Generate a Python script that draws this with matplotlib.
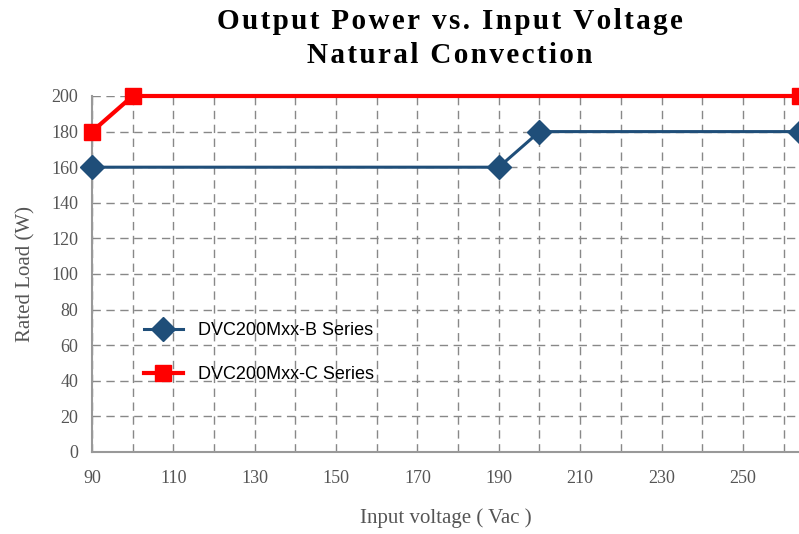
import matplotlib
matplotlib.use("Agg")
import matplotlib.pyplot as plt
from matplotlib.ticker import MultipleLocator

# data
b_volt = [90, 190, 200, 264]
b_load = [160, 160, 180, 180]
c_volt = [90, 100, 264]
c_load = [180, 200, 200]
x_ticks = [90, 110, 130, 150, 170, 190, 210, 230, 250]
y_ticks = list(range(0, 201, 20))
title_lines = ["Output Power vs. Input Voltage", "Natural Convection"]

fig = plt.figure(figsize=(7.99, 5.34), dpi=100)
ax = fig.add_axes([92 / 799, 82 / 534, 1 - 92 / 799, 356 / 534])

ax.plot(b_volt, b_load, color="#1F4E79", lw=2.2, marker="D", ms=12,
        label="DVC200Mxx-B Series", clip_on=False, zorder=3)
ax.plot(c_volt, c_load, color="#FF0000", lw=3, marker="s", ms=11,
        label="DVC200Mxx-C Series", clip_on=False, zorder=4)

ax.set_xlim(90, 263.8)
ax.set_ylim(0, 200)
ax.set_xticks(x_ticks)
ax.set_yticks(y_ticks)
ax.xaxis.set_minor_locator(MultipleLocator(10))

ax.grid(True, which="both", axis="x", color="#888888", ls=(0, (6, 4)), lw=1)
ax.grid(True, which="major", axis="y", color="#888888", ls=(0, (6, 4)), lw=1)

for s in ["top", "right"]:
    ax.spines[s].set_visible(False)
for s in ["left", "bottom"]:
    ax.spines[s].set_color("#999999")
    ax.spines[s].set_linewidth(1.5)

ax.tick_params(which="both", length=0, labelsize=13, labelcolor="#555555")
ax.tick_params(axis="x", pad=13)
ax.tick_params(axis="y", pad=10)
for lab in ax.get_xticklabels() + ax.get_yticklabels():
    lab.set_family("Liberation Serif")

ax.set_xlabel("Input voltage ( Vac )", family="Liberation Serif", fontsize=15,
              color="#555555", labelpad=15)
ax.set_ylabel("Rated Load (W)", family="Liberation Serif", fontsize=15,
              color="#555555", labelpad=11)

# spaced-out title letters like the reference
spaced = "\n".join("\u200a".join(line) for line in title_lines)
fig.text(0.563, 0.985, spaced, ha="center", va="top",
         family=["Liberation Serif", "DejaVu Serif"], weight="bold",
         fontsize=21, linespacing=1.35)

ax.legend(loc="upper left", bbox_to_anchor=(0.05, 0.41), frameon=False,
          prop={"family": "Liberation Sans", "size": 13},
          handlelength=2.2, labelspacing=1.5)

fig.savefig("out.png", dpi=100)
